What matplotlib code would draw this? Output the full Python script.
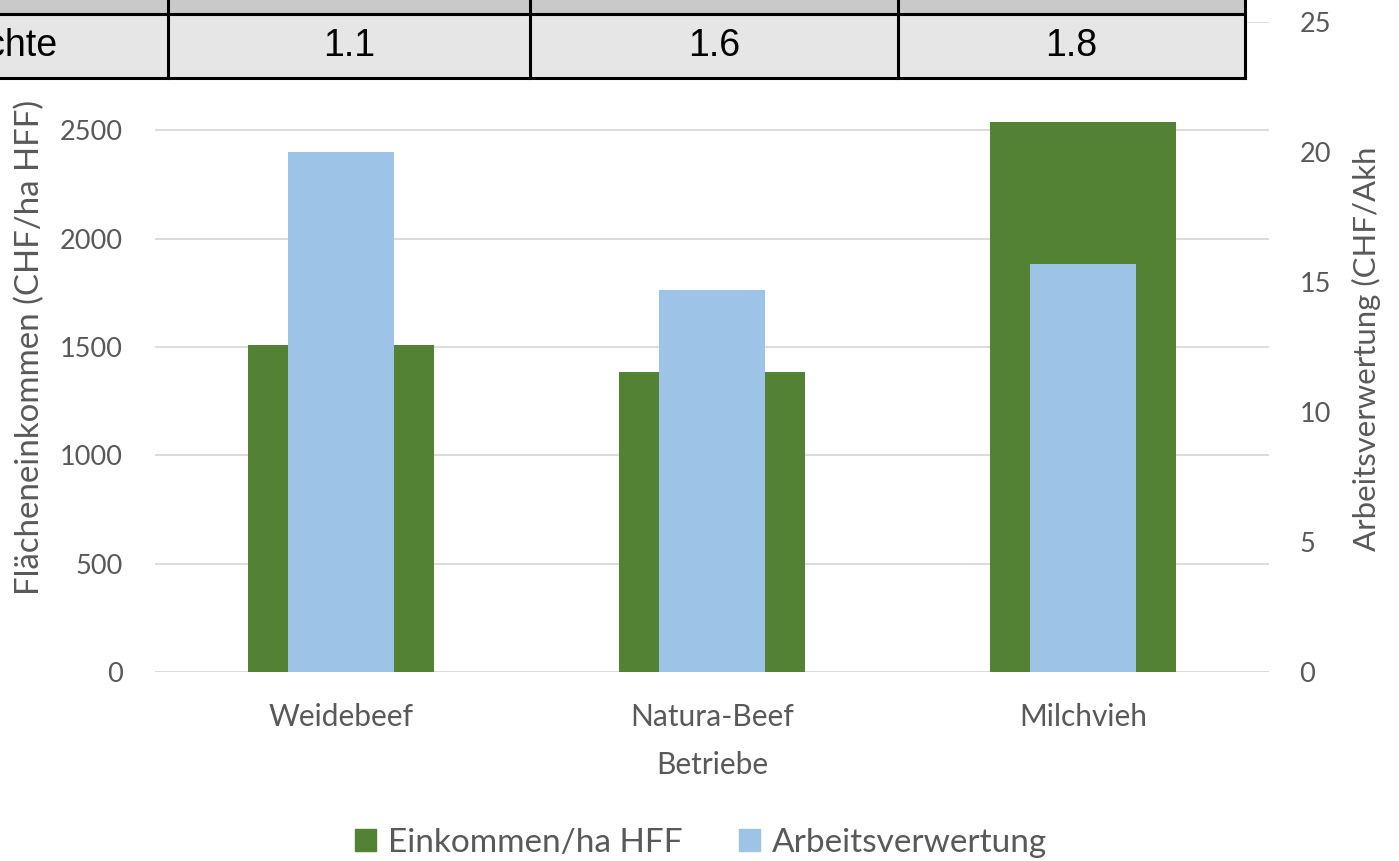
import matplotlib.pyplot as plt
from matplotlib.patches import Rectangle, Patch

plt.rcParams['font.family'] = ['Lato', 'DejaVu Sans']

# Betriebstypen und Kennzahlen
betriebe = ['Weidebeef', 'Natura-Beef', 'Milchvieh']
einkommen_ha = [1510, 1385, 2540]          # CHF/ha HFF
arbeitsverwertung = [20.0, 14.7, 15.7]     # CHF/Akh
besatzdichte = [1.1, 1.6, 1.8]
zeilen_titel = 'Besatzdichte'

left_ticks = [0, 500, 1000, 1500, 2000, 2500, 3000]
right_ticks = [0, 5, 10, 15, 20, 25]

GREEN = '#548235'
BLUE = '#9dc3e6'
GRID = '#d9d9d9'
TXT = '#595959'

W, H = 1399, 861
fig = plt.figure(figsize=(W / 100, H / 100), dpi=100)

def fx(px):
    return px / W

def fy(py):
    return 1 - py / H

ax = fig.add_axes([fx(155), fy(672), fx(1269) - fx(155), fy(22) - fy(672)])
ax2 = ax.twinx()

x = range(len(betriebe))
ax.bar(x, einkommen_ha, width=0.5, color=GREEN, zorder=2)
ax2.bar(x, arbeitsverwertung, width=0.285, color=BLUE, zorder=2)

ax.set_xlim(-0.5, 2.5)
ax.set_ylim(0, 3000)
ax2.set_ylim(0, 25)
ax.set_yticks(left_ticks)
ax2.set_yticks(right_ticks)
ax.set_xticks(list(x))
ax.set_xticklabels(betriebe)

ax.set_axisbelow(True)
ax.grid(axis='y', color=GRID, linewidth=1.3)
for a in (ax, ax2):
    for s in a.spines.values():
        s.set_visible(False)
    a.tick_params(length=0, labelsize=19.5, labelcolor=TXT)
ax.tick_params(axis='y', pad=23)
ax2.tick_params(axis='y', pad=22)
ax.tick_params(axis='x', pad=22, labelsize=21.5)

ax.set_xlabel('Betriebe', fontsize=21.5, color=TXT, labelpad=15)
fig.text(fx(30), fy(347), 'Flächeneinkommen (CHF/ha HFF)', rotation=90,
         ha='center', va='center', fontsize=23.8, color=TXT)
fig.text(fx(1366), fy(349), 'Arbeitsverwertung (CHF/Akh', rotation=90,
         ha='center', va='center', fontsize=22.4, color=TXT)

handles = [Patch(color=GREEN, label='Einkommen/ha HFF'),
           Patch(color=BLUE, label='Arbeitsverwertung')]
fig.legend(handles=handles, loc='center', bbox_to_anchor=(fx(701), fy(843)),
           ncol=2, frameon=False, fontsize=24, handlelength=0.62, handleheight=0.62,
           handletextpad=0.35, columnspacing=1.7, labelcolor=TXT)

# Tabelle oben, die über dem Diagramm liegt
tab = fig.add_axes([0, 0, 1, 1], zorder=5)
tab.set_xlim(0, W)
tab.set_ylim(H, 0)
tab.axis('off')
cols = [-400, 168, 530, 898, 1245]
tab.add_patch(Rectangle((cols[0], -40), cols[-1] - cols[0], 54, facecolor='#c9c9c9',
                        edgecolor='none'))
tab.add_patch(Rectangle((cols[0], 14), cols[-1] - cols[0], 64, facecolor='#e6e6e6',
                        edgecolor='none'))
for c in cols[1:]:
    tab.plot([c, c], [-40, 78], color='black', lw=2.2)
tab.plot([cols[0], cols[-1]], [14, 14], color='black', lw=2.2)
tab.plot([cols[0], cols[-1]], [78, 78], color='black', lw=2.2)
tab.text(58, 46, zeilen_titel, ha='right', va='center', fontsize=27,
         family='Liberation Sans', color='black')
for i, v in enumerate(besatzdichte):
    tab.text((cols[i + 1] + cols[i + 2]) / 2, 46, f'{v:.1f}', ha='center', va='center',
             fontsize=27, family='Liberation Sans', color='black')

fig.savefig('out.png', dpi=100)
